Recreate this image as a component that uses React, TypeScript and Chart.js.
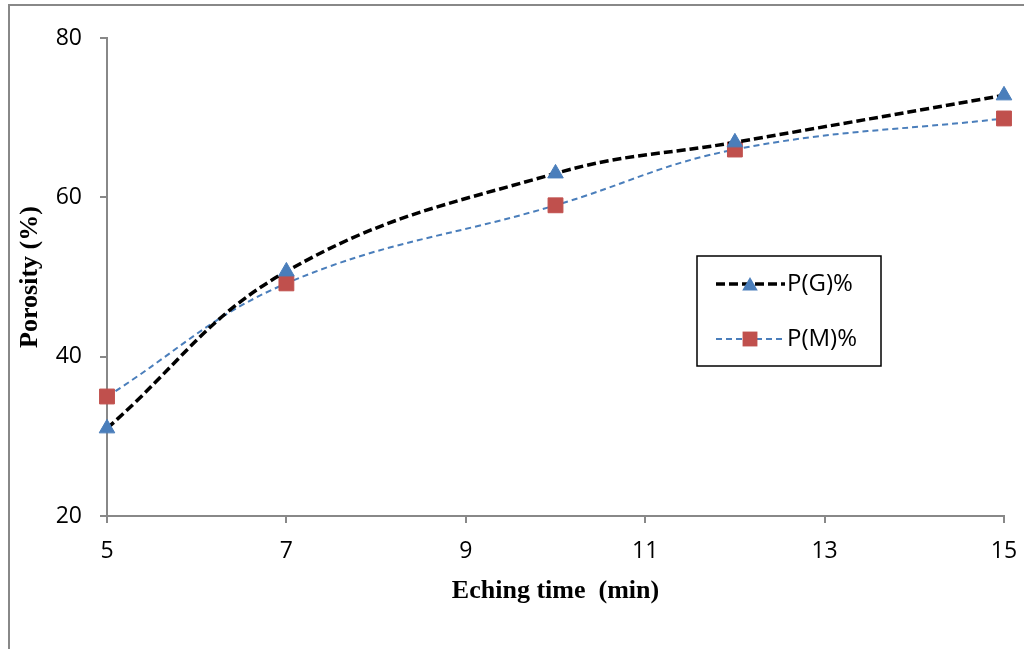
import React, { useEffect, useRef } from "react";
import { Chart, registerables } from "chart.js";

Chart.register(...registerables);

const etchingTimes = [5, 7, 10, 12, 15];
const porosityG = [31, 50.7, 63, 66.9, 72.8];
const porosityM = [35, 49.2, 59, 66, 69.9];
const seriesNames = ["P(G)%", "P(M)%"];
const xTitle = "Eching time  (min)";
const yTitle = "Porosity (%)";

const AXIS_GRAY = "#888888";
const BLUE = "#4A7EBB";
const RED = "#C0504D";

function drawMarker(ctx: CanvasRenderingContext2D, style: string, x: number, y: number, r: number, color: string) {
  ctx.save();
  ctx.fillStyle = color;
  ctx.setLineDash([]);
  ctx.beginPath();
  if (style === "triangle") {
    ctx.moveTo(x, y - r);
    ctx.lineTo(x + r * 0.866, y + r * 0.5);
    ctx.lineTo(x - r * 0.866, y + r * 0.5);
    ctx.closePath();
  } else {
    const s = r * Math.SQRT1_2;
    ctx.rect(x - s, y - s, 2 * s, 2 * s);
  }
  ctx.fill();
  ctx.restore();
}

const framePlugin = {
  id: "frame",
  beforeDraw(chart: any) {
    const ctx = chart.ctx;
    ctx.save();
    ctx.fillStyle = "#ffffff";
    ctx.fillRect(0, 0, chart.width, chart.height);
    ctx.strokeStyle = AXIS_GRAY;
    ctx.lineWidth = 2;
    ctx.beginPath();
    ctx.moveTo(9, chart.height);
    ctx.lineTo(9, 5);
    ctx.lineTo(chart.width, 5);
    ctx.stroke();
    ctx.restore();
  },
};

const legendPlugin = {
  id: "boxLegend",
  afterDraw(chart: any) {
    const ctx = chart.ctx;
    ctx.save();
    ctx.fillStyle = "#ffffff";
    ctx.fillRect(697, 256, 184, 110);
    ctx.strokeStyle = "#000000";
    ctx.lineWidth = 1.5;
    ctx.strokeRect(697, 256, 184, 110);
    const rows = [284, 339];
    chart.data.datasets.forEach((ds: any, i: number) => {
      const y = rows[i];
      ctx.save();
      ctx.strokeStyle = ds.borderColor;
      ctx.lineWidth = ds.borderWidth;
      ctx.setLineDash(ds.borderDash);
      ctx.beginPath();
      ctx.moveTo(716, y);
      ctx.lineTo(785, y);
      ctx.stroke();
      ctx.restore();
      drawMarker(ctx, ds.pointStyle, 750, ds.pointStyle === "triangle" ? y + 2 : y, ds.pointRadius, ds.pointBackgroundColor);
      ctx.fillStyle = "#000000";
      ctx.font = '24px "Open Sans"';
      ctx.textBaseline = "middle";
      ctx.textAlign = "left";
      ctx.fillText(ds.label, 787, y);
    });
    ctx.restore();
  },
};

export default function App() {
  const ref = useRef<HTMLCanvasElement | null>(null);

  useEffect(() => {
    document.body.style.margin = "0";
    const canvas = ref.current;
    if (!canvas) return;
    const chart = new Chart(canvas, {
      type: "line",
      data: {
        datasets: [
          {
            label: seriesNames[0],
            data: etchingTimes.map((x, i) => ({ x, y: porosityG[i] })),
            borderColor: "#000000",
            borderWidth: 3.5,
            borderDash: [9, 4],
            tension: 0.4,
            pointStyle: "triangle",
            pointRadius: 9,
            pointBackgroundColor: BLUE,
            pointBorderColor: BLUE,
            pointBorderWidth: 1,
            clip: false as any,
          },
          {
            label: seriesNames[1],
            data: etchingTimes.map((x, i) => ({ x, y: porosityM[i] })),
            borderColor: BLUE,
            borderWidth: 2,
            borderDash: [6, 4],
            tension: 0.4,
            pointStyle: "rect",
            pointRadius: 10.5,
            pointBackgroundColor: RED,
            pointBorderColor: RED,
            pointBorderWidth: 1,
            clip: false as any,
          },
        ],
      },
      options: {
        animation: false,
        responsive: false,
        layout: { padding: { left: 0, right: 20, top: 38, bottom: 0 } },
        plugins: {
          legend: { display: false },
          tooltip: { enabled: false },
        },
        scales: {
          x: {
            type: "linear",
            min: 5,
            max: 15,
            ticks: {
              stepSize: 2,
              color: "#000000",
              font: { family: '"Open Sans"', size: 23 },
              padding: 15,
            },
            grid: { display: true, drawOnChartArea: false, drawTicks: true, tickLength: 7, color: AXIS_GRAY, lineWidth: 2 },
            border: { display: true, color: AXIS_GRAY, width: 2 },
            title: {
              display: true,
              text: xTitle,
              color: "#000000",
              font: { family: '"Liberation Serif"', size: 26, weight: "bold" },
              padding: { top: 0, bottom: 42 },
            },
            afterFit: (s: any) => {
              s.height = 133;
              s.paddingRight = 0;
              s.paddingLeft = 0;
            },
          },
          y: {
            min: 20,
            max: 80,
            ticks: {
              stepSize: 20,
              color: "#000000",
              font: { family: '"Open Sans"', size: 23 },
              padding: 18,
            },
            grid: { display: true, drawOnChartArea: false, drawTicks: true, tickLength: 7, color: AXIS_GRAY, lineWidth: 2 },
            border: { display: true, color: AXIS_GRAY, width: 2 },
            title: {
              display: true,
              text: yTitle,
              color: "#000000",
              font: { family: '"Liberation Serif"', size: 26, weight: "bold" },
              padding: { top: 15, bottom: 0 },
            },
            afterFit: (s: any) => {
              s.width = 107;
              s.paddingTop = 0;
              s.paddingBottom = 0;
            },
          },
        },
      } as any,
      plugins: [framePlugin, legendPlugin],
    });
    return () => chart.destroy();
  }, []);

  return <canvas ref={ref} width={1024} height={649} style={{ display: "block" }} />;
}
